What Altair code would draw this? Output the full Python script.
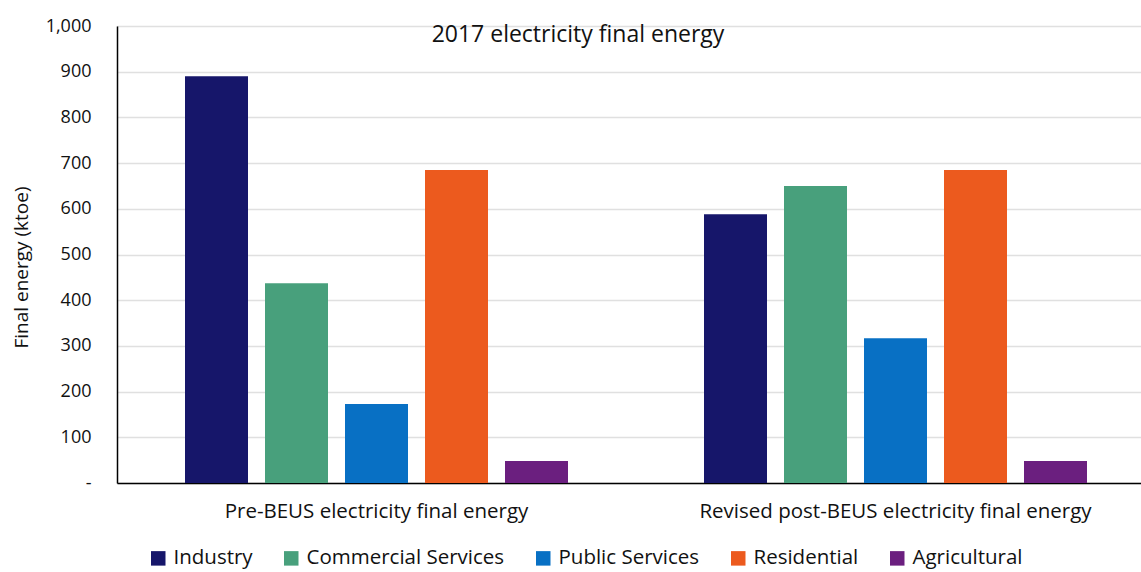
import altair as alt
import pandas as pd

groups = ["Pre-BEUS electricity final energy", "Revised post-BEUS electricity final energy"]
sectors = ["Industry", "Commercial Services", "Public Services", "Residential", "Agricultural"]
pre_values = [890, 437, 173, 685, 48]
post_values = [588, 650, 317, 685, 48]
colors = ["#16166a", "#48a07c", "#0870c4", "#ec5a1e", "#6b1f7f"]
title_text = ["2017 electricity final energy"]

rows = []
for s, v in zip(sectors, pre_values):
    rows.append({"group": groups[0], "sector": s, "value": v})
for s, v in zip(sectors, post_values):
    rows.append({"group": groups[1], "sector": s, "value": v})
df = pd.DataFrame(rows)

FONT = "Open Sans"

bars = alt.Chart(df).mark_bar().encode(
    x=alt.X("group:N", sort=groups,
            scale=alt.Scale(paddingInner=0, paddingOuter=0, range=[0, 1038]),
            axis=alt.Axis(title=None, labelAngle=0, ticks=False, domainColor="black",
                          domainWidth=1.5, labelFontSize=20.5, labelPadding=18, labelLimit=0,
                          labelColor="#111", labelFont=FONT)),
    xOffset=alt.XOffset("sector:N", sort=sectors,
                        scale=alt.Scale(paddingInner=0.2125, paddingOuter=0.85)),
    y=alt.Y("value:Q", scale=alt.Scale(domain=[0, 1000]),
            axis=alt.Axis(title="Final energy (ktoe)", values=list(range(0, 1001, 100)),
                          labelExpr="datum.value == 0 ? '-' : format(datum.value, ',')",
                          labelOverlap=False,
                          ticks=False, domainColor="black", domainWidth=1.5,
                          gridColor="#e0e0e0", gridWidth=1.5,
                          labelFontSize=18, labelPadding=26, labelColor="#111",
                          titleFontSize=19, titleFontWeight="normal",
                          titleX=-86, titleY=241,
                          titleColor="#111", labelFont=FONT, titleFont=FONT)),
    color=alt.Color("sector:N", sort=sectors,
                    scale=alt.Scale(domain=sectors, range=colors),
                    legend=alt.Legend(title=None, orient="none", direction="horizontal",
                                      legendX=31, legendY=522,
                                      symbolType="square", symbolSize=210, symbolStrokeWidth=0,
                                      labelFontSize=20.5, labelFont=FONT, labelColor="#111",
                                      labelLimit=0, columnPadding=28, labelOffset=5)),
)

title = alt.Chart(pd.DataFrame({"t": title_text})).mark_text(
    fontSize=23, font=FONT, color="#111", baseline="middle", align="center"
).encode(text="t:N", x=alt.value(461), y=alt.value(9))

chart = alt.layer(bars, title).properties(
    width=1024, height=457,
    autosize=alt.AutoSizeParams(type="none"),
    padding={"left": 117, "top": 26, "right": 0, "bottom": 89},
).configure_view(stroke=None).configure(background="white")

chart.save("out.html", embed_options={"renderer": "svg", "actions": False})
